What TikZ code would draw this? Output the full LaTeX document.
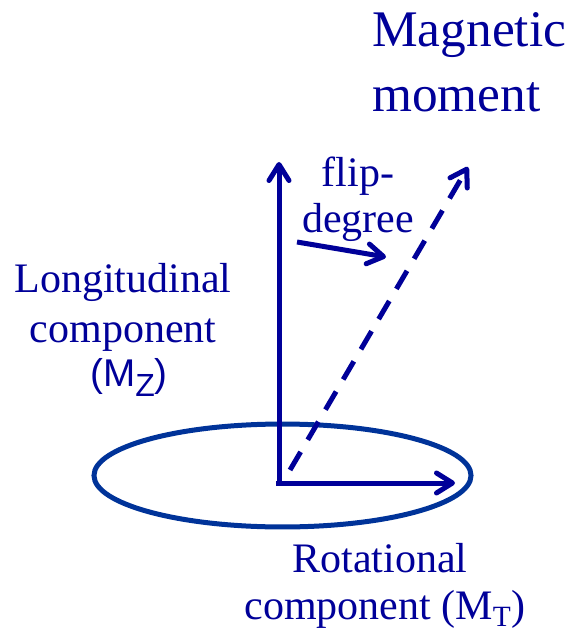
\documentclass[tikz,border=0pt]{standalone}
\usepackage{fontspec}
\setmainfont{Liberation Serif}
\newfontfamily\arialf{Liberation Sans}
\usetikzlibrary{arrows.meta}
\definecolor{navy}{RGB}{0,0,153}
\definecolor{ringblue}{RGB}{0,51,153}
\begin{document}
\begin{tikzpicture}[x=0.75pt,y=-0.75pt,
  vec/.style={draw=navy, line width=3.75pt, line cap=butt,
    -{Straight Barb[length=12pt,width=15pt,line cap=round,line join=round]}},
  dashvec/.style={vec, dash pattern=on 15.75pt off 10.5pt},
  lbl/.style={text=navy, inner sep=0pt, anchor=base},
  big/.style={font=\fontsize{38.5}{40}\selectfont},
  mid/.style={font=\fontsize{31.5}{33}\selectfont},
  sans/.style={font=\arialf\fontsize{29}{31}\selectfont}]
\useasboundingbox (0,0) rectangle (573,634);
% precession ring
\draw[draw=ringblue, line width=3.75pt] (282.5,475.5) ellipse [x radius=141.4pt, y radius=38.6pt];
% anchor points
\coordinate (O) at (279,483);
\coordinate (Ztip) at (279,162);
\coordinate (Hstart) at (276,483);
\coordinate (Ttip) at (455,483);
\coordinate (Dstart) at (290,470);
\coordinate (Dtip) at (468,167);
\coordinate (Fs) at (297,242);
\coordinate (Ft) at (386,257);
% vectors
\draw[vec] (O) -- (Ztip);
\draw[vec] (Hstart) -- (Ttip);
\draw[dashvec] (Dstart) -- (Dtip);
\draw[vec] (Fs) -- (Ft);
% labels
\node[lbl, big, anchor=base west] (mag1) at (372,47) {Magnetic};
\node[lbl, big, anchor=base west] (mag2) at (372,112) {moment};
\node[lbl, mid] (flip1) at (358,187) {flip-};
\node[lbl, mid] (flip2) at (358,233) {degree};
\node[lbl, mid] (lon1) at (123,292) {Longitudinal};
\node[lbl, mid] (lon2) at (123,342) {component};
\node[lbl, sans] (lon3) at (129,386) {(M\raisebox{-8pt}{\fontsize{24}{25}\selectfont Z})};
\node[lbl, mid] (rot1) at (380,572) {Rotational};
\node[lbl, mid] (rot2) at (385,619) {component (M\textsubscript{T})};
\end{tikzpicture}
\end{document}
